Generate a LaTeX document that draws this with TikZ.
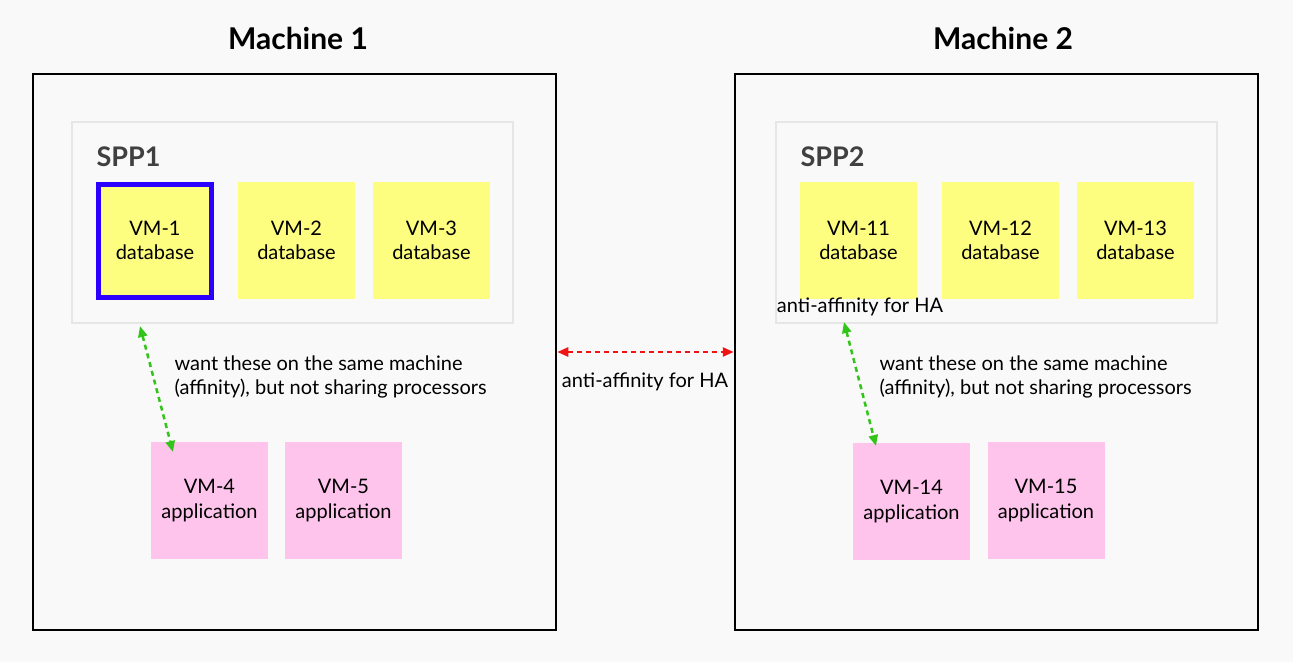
\documentclass[tikz,border=0pt]{standalone}
\usepackage{fontspec}
\setmainfont{Lato}
\usetikzlibrary{arrows.meta}
\definecolor{bgcol}{HTML}{F9F9F9}
\definecolor{sppline}{HTML}{E6E6E6}
\definecolor{dbfill}{HTML}{FDFD80}
\definecolor{appfill}{HTML}{FEC4EC}
\definecolor{vmblue}{HTML}{2B00FF}
\definecolor{okgreen}{HTML}{33C41A}
\definecolor{hared}{HTML}{F01414}
\definecolor{spptext}{HTML}{404040}
\newcommand{\txt}{\fontsize{20}{24.5}\selectfont}

\begin{document}
\begin{tikzpicture}
	[x=1pt, y=-1pt,
	machine/.style={draw=black, line width=2.5pt, minimum width=523pt, minimum height=556pt, inner sep=0pt},
	pool/.style={draw=sppline, line width=2.5pt, fill=bgcol, minimum width=441pt, minimum height=201pt, inner sep=0pt},
	title/.style={font=\fontsize{30}{32}\selectfont\bfseries},
	poolname/.style={anchor=west, text=spptext, font=\fontsize{27}{30}\selectfont\bfseries},
	vm/.style={minimum width=117pt, minimum height=117pt, inner sep=0pt, align=center, font=\txt},
	db/.style={vm, fill=dbfill},
	app/.style={vm, fill=appfill},
	note/.style={align=left, font=\txt},
	affine/.style={okgreen, line width=2.5pt, dash pattern=on 5pt off 4pt, {Triangle[length=11pt,width=9pt]}-{Triangle[length=11pt,width=9pt]}},
	apart/.style={hared, line width=2.5pt, dash pattern=on 5pt off 4pt, {Triangle[length=11pt,width=9pt]}-{Triangle[length=11pt,width=9pt]}}]
	\useasboundingbox[fill=bgcol] (0,0) rectangle (1293,662);
	% machines
	\node[title] (t1) at (298,38) {Machine 1};
	\node[title] (t2) at (1003,38) {Machine 2};
	\node[machine] (m1) at (294.5,352) {};
	\node[machine] (m2) at (996.5,352) {};
	% pools
	\node[pool] (spp1) at (292.5,222.5) {};
	\node[pool] (spp2) at (996.5,222.5) {};
	\node[poolname] (n1) at (93,157) {SPP1};
	\node[poolname] (n2) at (797,157) {SPP2};
	% machine 1 vms
	\node[db, draw=vmblue, line width=5pt, minimum width=113pt, minimum height=113pt] (vm1) at (155,240.5) {VM-1\\database};
	\node[db] (vm2) at (296.5,240.5) {VM-2\\database};
	\node[db] (vm3) at (431.5,240.5) {VM-3\\database};
	\node[app] (vm4) at (209.5,500.5) {VM-4\\application};
	\node[app] (vm5) at (343.5,500.5) {VM-5\\application};
	% machine 2 vms
	\node[db] (vm11) at (858.5,240.5) {VM-11\\database};
	\node[db] (vm12) at (1000.5,240.5) {VM-12\\database};
	\node[db] (vm13) at (1135.5,240.5) {VM-13\\database};
	\node[app] (vm14) at (911.5,501.5) {VM-14\\application};
	\node[app] (vm15) at (1046,500.5) {VM-15\\application};
	% notes
	\node[note, anchor=west] (w1) at (171,377) {want these on the same machine\\(affinity), but not sharing processors};
	\node[note, anchor=west] (w2) at (876,377) {want these on the same machine\\(affinity), but not sharing processors};
	\node[note] (h1) at (645,382) {anti-affinity for HA};
	\node[note] (h2) at (860,307) {anti-affinity for HA};
	% arrows
	\coordinate (a1) at (140,326);
	\coordinate (b1) at (173,452);
	\coordinate (a2) at (844,322);
	\coordinate (b2) at (876,446);
	\draw[affine] (a1) -- (b1);
	\draw[affine] (a2) -- (b2);
	\draw[apart] (m1.east) -- (m2.west);
\end{tikzpicture}
\end{document}
